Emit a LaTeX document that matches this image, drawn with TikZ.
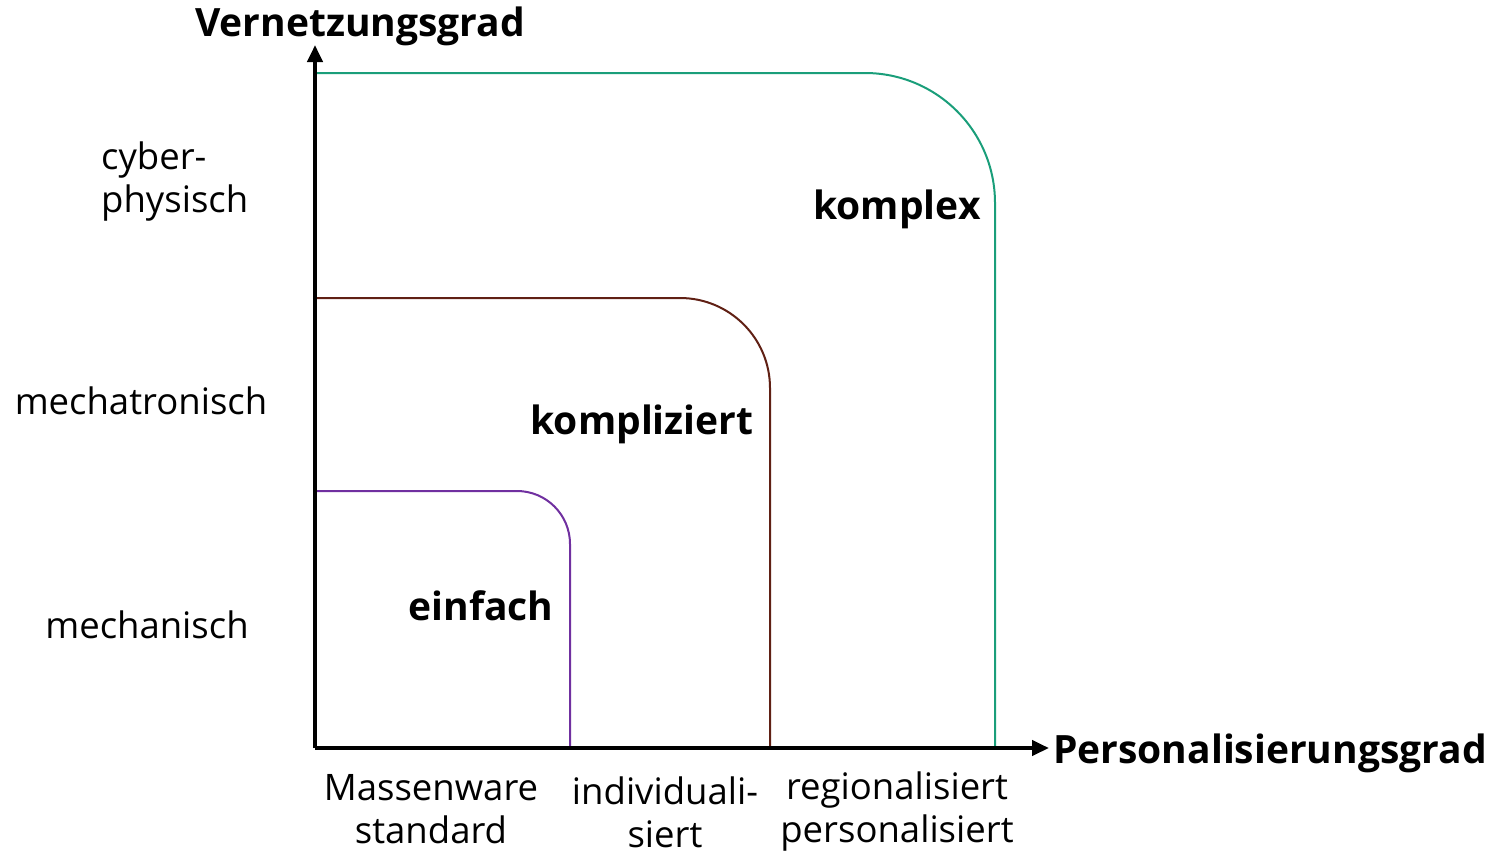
\documentclass[tikz,border=0pt]{standalone}
\usepackage{fontspec}
\setmainfont{Open Sans}
\usetikzlibrary{arrows.meta}
\definecolor{cgreen}{RGB}{26,158,122}
\definecolor{cbrown}{RGB}{96,32,20}
\definecolor{cpurple}{RGB}{112,48,160}
\tikzset{
  axis/.style={line width=4pt,-{Triangle[length=17pt,width=15pt]}},
  zone/.style={line width=2pt},
  lbl/.style={font=\fontsize{36.5}{43}\selectfont,inner sep=0pt,align=center},
  blbl/.style={font=\fontsize{39}{44}\selectfont\bfseries,inner sep=0pt},
}
\begin{document}
\begin{tikzpicture}[x=1pt,y=-1pt]
\useasboundingbox (0,0) rectangle (1498,855);
\coordinate (O) at (315,748);
\coordinate (ytip) at (315,45);
\coordinate (xtip) at (1049,748);
% zones
\draw[zone,cgreen,rounded corners=130pt] (315,73) -- (995,73) -- (995,748);
\draw[zone,cbrown,rounded corners=90pt] (315,298) -- (770,298) -- (770,748);
\draw[zone,cpurple,rounded corners=53pt] (315,491) -- (570,491) -- (570,748);
% axes
\draw[axis] (O) -- (ytip);
\draw[axis] (O) -- (xtip);
\node[blbl] (yl) at (360,26) {Vernetzungsgrad};
\node[blbl,anchor=west] (xl) at (1053,753) {Personalisierungsgrad};
% y categories
\node[lbl,align=left,anchor=west] (cp) at (101,182) {cyber-\\physisch};
\node[lbl] (mt) at (141,401) {mechatronisch};
\node[lbl] (mc) at (147,625) {mechanisch};
% zone labels
\node[blbl] (kx) at (897,209) {komplex};
\node[blbl] (kz) at (642,424) {kompliziert};
\node[blbl] (ef) at (481,606) {einfach};
% x categories
\node[lbl] (ms) at (431,809) {Massenware\\standard};
\node[lbl] (is) at (665,812) {individuali-\\siert};
\node[lbl] (rp) at (897,812) {regionalisiert\\personalisiert};
\end{tikzpicture}
\end{document}
